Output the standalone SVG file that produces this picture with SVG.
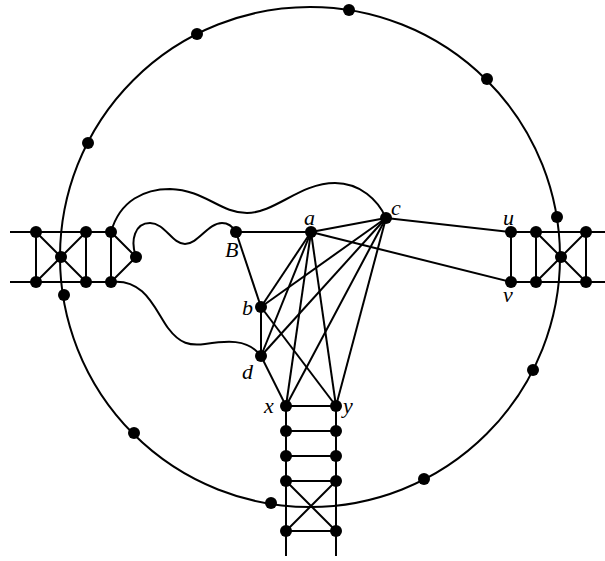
<svg xmlns="http://www.w3.org/2000/svg" width="605" height="561" viewBox="0 0 605 561">
<style>
.e{stroke:#000;stroke-width:2;fill:none}
.n{fill:#000}
.l{font-family:"Liberation Serif","DejaVu Serif",serif;font-style:italic;font-size:22px;fill:#000}
</style>
<rect width="605" height="561" fill="#fff"/>
<g id="connectors" class="e">
<circle cx="310" cy="257" r="250"/>
<line x1="10" y1="232" x2="111" y2="232"/>
<line x1="10" y1="282" x2="111" y2="282"/>
<line x1="36" y1="232" x2="36" y2="282"/>
<line x1="86" y1="232" x2="86" y2="282"/>
<line x1="111" y1="232" x2="111" y2="282"/>
<line x1="36" y1="232" x2="86" y2="282"/>
<line x1="86" y1="232" x2="36" y2="282"/>
<polyline points="111,232 136,257 111,282"/>
<line x1="511" y1="232" x2="605" y2="232"/>
<line x1="511" y1="282" x2="605" y2="282"/>
<line x1="511" y1="232" x2="511" y2="282"/>
<line x1="536" y1="232" x2="536" y2="282"/>
<line x1="586" y1="232" x2="586" y2="282"/>
<line x1="536" y1="232" x2="586" y2="282"/>
<line x1="586" y1="232" x2="536" y2="282"/>
<path d="M111,232 C120,200 145,189 170,189 C205,190 220,213 247,213 C275,213 300,183 335,183 C360,183 378,200 386,218"/>
<path d="M136,257 C130,240 135,223 150,223 C165,223 172,244 185,244 C198,244 208,223 222,223 C229,223 233,227 236,232"/>
<path d="M111,282 C145,278 155,310 168,328 C180,344 190,346 205,344 C225,341 248,338 261,356"/>
<line x1="236" y1="232" x2="311" y2="232"/>
<line x1="311" y1="232" x2="386" y2="218"/>
<line x1="386" y1="218" x2="511" y2="232"/>
<line x1="311" y1="232" x2="511" y2="282"/>
<line x1="236" y1="232" x2="261" y2="307"/>
<line x1="261" y1="307" x2="261" y2="356"/>
<line x1="311" y1="232" x2="261" y2="307"/>
<line x1="311" y1="232" x2="261" y2="356"/>
<line x1="311" y1="232" x2="286" y2="406"/>
<line x1="311" y1="232" x2="336" y2="406"/>
<line x1="386" y1="218" x2="261" y2="307"/>
<line x1="386" y1="218" x2="261" y2="356"/>
<line x1="386" y1="218" x2="286" y2="406"/>
<line x1="386" y1="218" x2="336" y2="406"/>
<line x1="261" y1="307" x2="336" y2="406"/>
<line x1="261" y1="356" x2="286" y2="406"/>
<line x1="286" y1="406" x2="286" y2="556"/>
<line x1="336" y1="406" x2="336" y2="556"/>
<line x1="286" y1="406" x2="336" y2="406"/>
<line x1="286" y1="431" x2="336" y2="431"/>
<line x1="286" y1="456" x2="336" y2="456"/>
<line x1="286" y1="481" x2="336" y2="481"/>
<line x1="286" y1="531" x2="336" y2="531"/>
<line x1="286" y1="481" x2="336" y2="531"/>
<line x1="336" y1="481" x2="286" y2="531"/>
</g>
<g id="circle-nodes" class="n">
<circle cx="349" cy="10" r="6"/>
<circle cx="197" cy="34" r="6"/>
<circle cx="487" cy="79" r="6"/>
<circle cx="88" cy="143" r="6"/>
<circle cx="557" cy="217" r="6"/>
<circle cx="64" cy="295" r="6"/>
<circle cx="533" cy="370" r="6"/>
<circle cx="134" cy="433" r="6"/>
<circle cx="424" cy="479" r="6"/>
<circle cx="271" cy="503" r="6"/>
</g>
<g id="left-gadget" class="n">
<circle cx="36" cy="232" r="6"/>
<circle cx="86" cy="232" r="6"/>
<circle cx="111" cy="232" r="6"/>
<circle cx="36" cy="282" r="6"/>
<circle cx="86" cy="282" r="6"/>
<circle cx="111" cy="282" r="6"/>
<circle cx="61" cy="257" r="6"/>
<circle cx="136" cy="257" r="6"/>
</g>
<g id="right-gadget" class="n">
<circle cx="511" cy="232" r="6"/>
<circle cx="536" cy="232" r="6"/>
<circle cx="586" cy="232" r="6"/>
<circle cx="511" cy="282" r="6"/>
<circle cx="536" cy="282" r="6"/>
<circle cx="586" cy="282" r="6"/>
<circle cx="561" cy="257" r="6"/>
</g>
<g id="node-B"><circle class="n" cx="236" cy="232" r="6"/><text class="l" x="225" y="257">B</text></g>
<g id="node-a"><circle class="n" cx="311" cy="232" r="6"/><text class="l" x="304" y="225">a</text></g>
<g id="node-c"><circle class="n" cx="386" cy="218" r="6"/><text class="l" x="391" y="215">c</text></g>
<g id="node-u"><text class="l" x="503" y="225">u</text></g>
<g id="node-v"><text class="l" x="503" y="302">v</text></g>
<g id="node-b"><circle class="n" cx="261" cy="307" r="6"/><text class="l" x="242" y="315">b</text></g>
<g id="node-d"><circle class="n" cx="261" cy="356" r="6"/><text class="l" x="242" y="379">d</text></g>
<g id="node-x"><circle class="n" cx="286" cy="406" r="6"/><text class="l" x="264" y="413">x</text></g>
<g id="node-y"><circle class="n" cx="336" cy="406" r="6"/><text class="l" x="343" y="413">y</text></g>
<g id="ladder" class="n">
<circle cx="286" cy="431" r="6"/><circle cx="336" cy="431" r="6"/>
<circle cx="286" cy="456" r="6"/><circle cx="336" cy="456" r="6"/>
<circle cx="286" cy="481" r="6"/><circle cx="336" cy="481" r="6"/>
<circle cx="286" cy="531" r="6"/><circle cx="336" cy="531" r="6"/>
</g>
</svg>
